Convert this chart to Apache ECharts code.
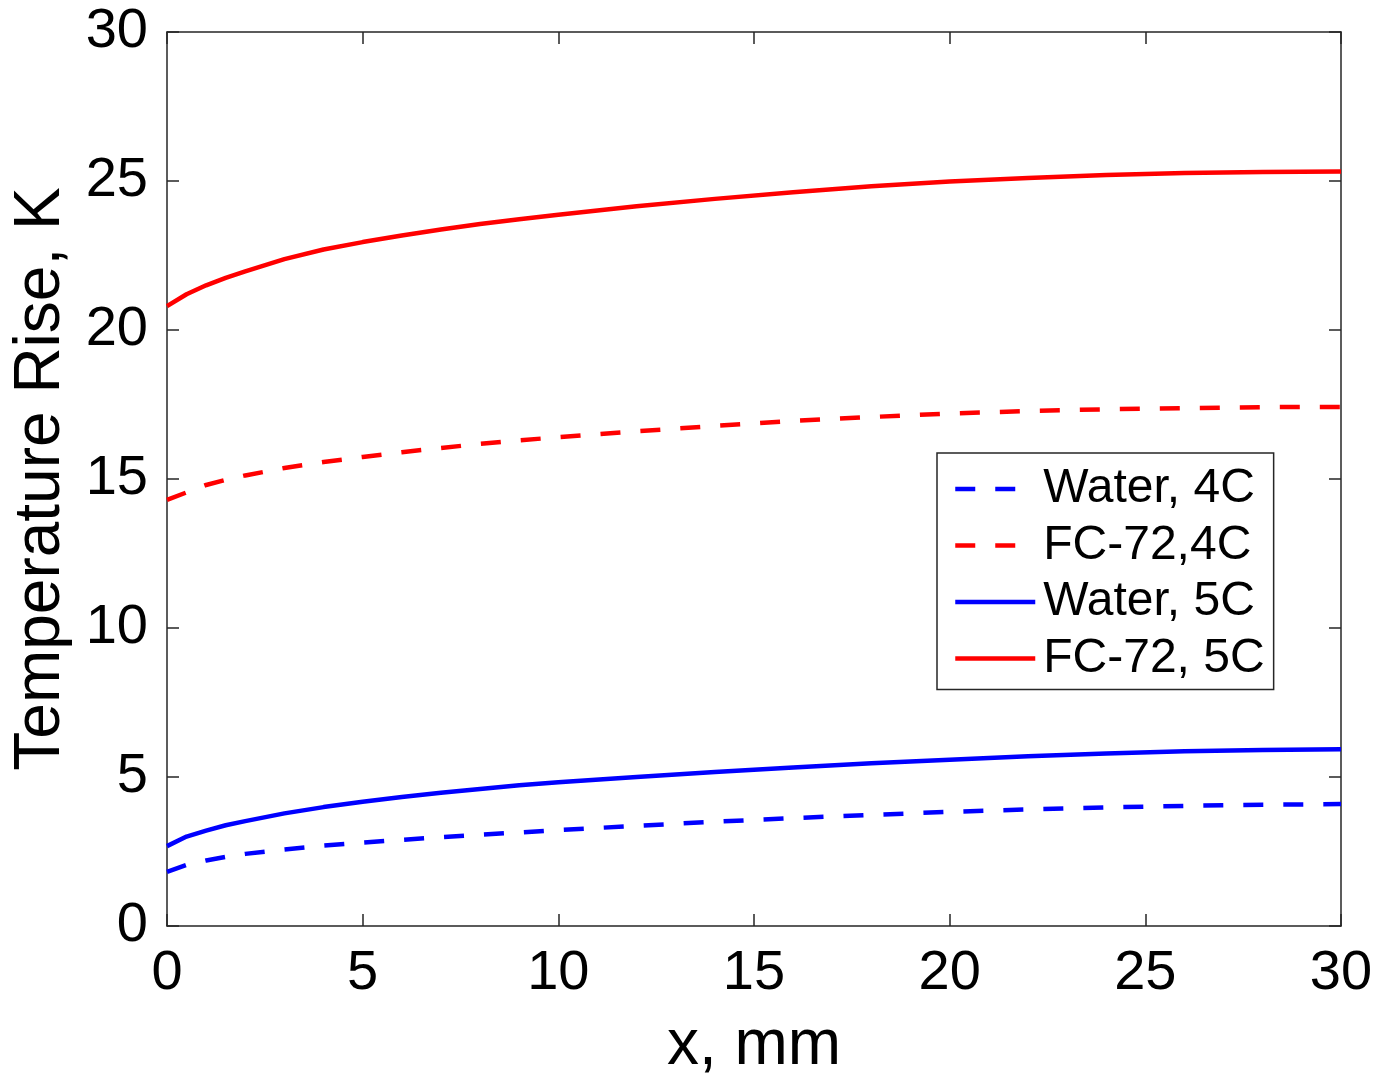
<!DOCTYPE html>
<html>
<head>
<meta charset="utf-8">
<script src="https://cdn.jsdelivr.net/npm/echarts@6/dist/echarts.min.js"></script>
<style>
html,body{margin:0;padding:0;background:#fff;}
#chart{width:1378px;height:1083px;}
</style>
</head>
<body>
<div id="chart"></div>
<script>
const xValues = [0, 0.5, 1, 1.5, 2, 3, 4, 5, 6, 7, 8, 9, 10, 12, 14, 16, 18, 20, 22, 24, 26, 28, 30];
const water4C = [1.82, 2.05, 2.2, 2.32, 2.42, 2.57, 2.7, 2.8, 2.89, 2.98, 3.06, 3.14, 3.22, 3.36, 3.5, 3.62, 3.73, 3.83, 3.91, 3.98, 4.03, 4.07, 4.09];
const fc724C = [14.3, 14.55, 14.8, 14.97, 15.12, 15.37, 15.57, 15.74, 15.9, 16.04, 16.18, 16.3, 16.4, 16.6, 16.78, 16.95, 17.08, 17.2, 17.28, 17.34, 17.38, 17.41, 17.42];
const water5C = [2.68, 3.0, 3.2, 3.38, 3.52, 3.78, 3.99, 4.17, 4.33, 4.47, 4.6, 4.72, 4.82, 5.0, 5.17, 5.32, 5.46, 5.58, 5.7, 5.79, 5.86, 5.91, 5.93];
const fc725C = [20.8, 21.2, 21.5, 21.75, 21.97, 22.38, 22.7, 22.95, 23.17, 23.37, 23.56, 23.72, 23.87, 24.15, 24.4, 24.62, 24.82, 24.98, 25.1, 25.2, 25.27, 25.3, 25.32];
const seriesNames = ['Water, 4C', 'FC-72,4C', 'Water, 5C', 'FC-72, 5C'];
const xTitle = 'x, mm';
const yTitle = 'Temperature Rise, K';

const FONT = '"Liberation Sans", Arial, sans-serif';
const AX = '#262626';
const pair = (ys) => xValues.map((x, i) => [x, ys[i]]);

const chart = echarts.init(document.getElementById('chart'), null, {renderer: 'canvas'});
const baseAxis = {
  type: 'value', min: 0, max: 30, interval: 5,
  axisLine: {show: true, onZero: false, lineStyle: {color: AX, width: 1.5}},
  axisTick: {show: true, inside: true, length: 12, lineStyle: {color: AX, width: 1.5}},
  splitLine: {show: false}
};
chart.setOption({
  backgroundColor: '#fff',
  animation: false,
  grid: {left: 167, top: 32, right: 37, bottom: 156, containLabel: false},
  xAxis: [
    Object.assign({}, baseAxis, {
      position: 'bottom',
      name: xTitle, nameLocation: 'middle', nameGap: 88,
      nameTextStyle: {fontFamily: FONT, fontSize: 64, color: '#000'},
      axisLabel: {fontFamily: FONT, fontSize: 56, color: '#000', margin: 20}
    }),
    Object.assign({}, baseAxis, {position: 'top', axisLabel: {show: false}})
  ],
  yAxis: [
    Object.assign({}, baseAxis, {
      position: 'left',
      name: yTitle, nameLocation: 'middle', nameGap: 94,
      nameTextStyle: {fontFamily: FONT, fontSize: 64, color: '#000'},
      axisLabel: {fontFamily: FONT, fontSize: 56, color: '#000', margin: 19}
    }),
    Object.assign({}, baseAxis, {position: 'right', axisLabel: {show: false}})
  ],
  legend: {
    orient: 'vertical',
    left: 937, top: 453,
    backgroundColor: '#fff',
    borderColor: AX, borderWidth: 1.5,
    padding: [12, 9, 7, 16],
    itemWidth: 80, itemHeight: 20, itemGap: 8.5,
    itemStyle: {opacity: 0},
    lineStyle: {width: 4.5},
    textStyle: {fontFamily: FONT, fontSize: 48, color: '#000', lineHeight: 48, padding: [0, 0, 0, 3]},
    data: seriesNames
  },
  series: [
    {name: seriesNames[0], type: 'line', data: pair(water4C), showSymbol: false, symbol: 'none', color: '#0000ff',
     lineStyle: {color: '#0000ff', width: 4.5, type: [20, 20]}},
    {name: seriesNames[1], type: 'line', data: pair(fc724C), showSymbol: false, symbol: 'none', color: '#ff0000',
     lineStyle: {color: '#ff0000', width: 4.5, type: [20, 20]}},
    {name: seriesNames[2], type: 'line', data: pair(water5C), showSymbol: false, symbol: 'none', color: '#0000ff',
     lineStyle: {color: '#0000ff', width: 4.5, type: 'solid'}},
    {name: seriesNames[3], type: 'line', data: pair(fc725C), showSymbol: false, symbol: 'none', color: '#ff0000',
     lineStyle: {color: '#ff0000', width: 4.5, type: 'solid'}}
  ]
});
</script>
</body>
</html>
